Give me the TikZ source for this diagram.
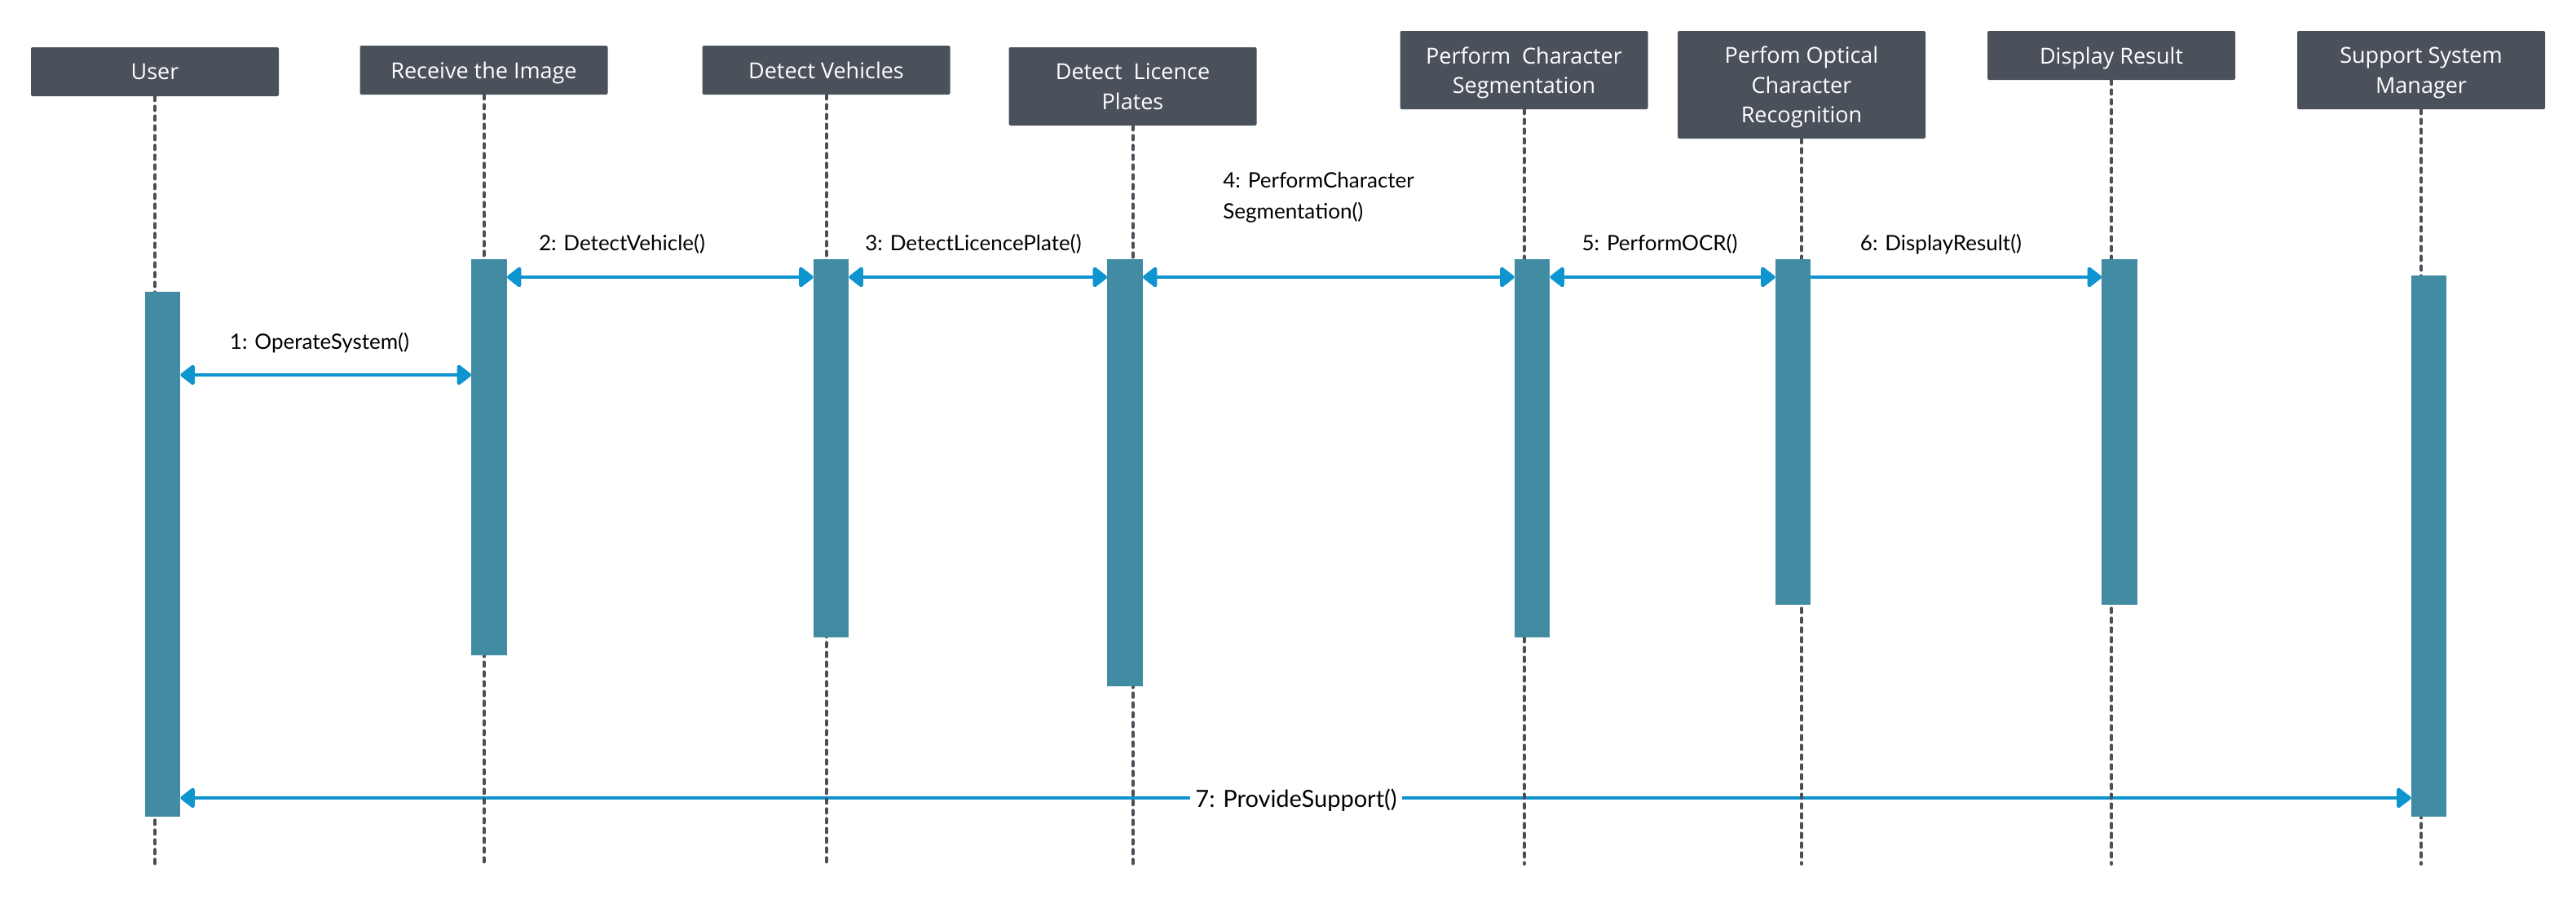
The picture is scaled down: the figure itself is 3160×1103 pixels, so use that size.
\documentclass[tikz,border=0pt]{standalone}
\usepackage{fontspec}
\setmainfont{Lato}
\newfontfamily\boxfont{Open Sans}
\usetikzlibrary{arrows.meta,fit}
\definecolor{boxc}{HTML}{4B515B}
\definecolor{actc}{HTML}{418BA3}
\definecolor{arrc}{HTML}{0E94CE}
\definecolor{lifec}{HTML}{4A505A}
\tikzset{
  hbox/.style={fill=boxc, text=white, minimum width=152pt, inner sep=0pt, align=center,
    rounded corners=1pt, text depth=0pt, font=\boxfont\fontsize{13.5}{18.3}\selectfont},
  act/.style={fill=actc, inner sep=0pt, minimum width=21.5pt},
  life/.style={draw=lifec, line width=2pt, line cap=round, dash pattern=on 2.5pt off 3.5pt},
  msgboth/.style={draw=arrc, line width=2.25pt,
    {Triangle[length=9.5pt,width=14pt,round]}-{Triangle[length=9.5pt,width=14pt,round]}},
  msgone/.style={draw=arrc, line width=2.25pt, -{Triangle[length=9.5pt,width=14pt,round]}},
  lbl/.style={inner sep=0pt, align=left, font=\fontsize{13}{19}\selectfont, text=black}
}
\begin{document}
\begin{tikzpicture}[x=0.5pt,y=-0.5pt]
\useasboundingbox (0,0) rectangle (3160,1103);
% header boxes
\node[hbox, minimum height=30pt] (user) at (190,88) {User};
\node[hbox, minimum height=30pt] (recv) at (593.5,86) {Receive the Image};
\node[hbox, minimum height=30pt] (dv) at (1013.5,86) {Detect Vehicles};
\node[hbox, minimum height=48pt] (lp) at (1389.5,106) {Detect\ \ Licence\\Plates};
\node[hbox, minimum height=48pt] (pcs) at (1869.5,86) {Perform\ \ Character\\Segmentation};
\node[hbox, minimum height=66pt] (ocr) at (2210,104) {Perfom Optical\\Character\\Recognition};
\node[hbox, minimum height=30pt] (dr) at (2590,68) {Display Result};
\node[hbox, minimum height=48pt] (ssm) at (2970,86) {Support System\\Manager};
% helper coordinates
\coordinate (bot) at (0,1060);
\coordinate (y1) at (0,460);
\coordinate (y2) at (0,340);
\coordinate (y7) at (0,979);
% activation bars (named, used as message ends)
\node[act, fit={(199.5,358)(199.5,1002)}] (auser) {};
\node[act, fit={(600,318)(600,804)}] (arecv) {};
\node[act, fit={(1019.5,318)(1019.5,782)}] (adv) {};
\node[act, fit={(1380,318)(1380,842)}] (alp) {};
\node[act, fit={(1879.5,318)(1879.5,782)}] (apcs) {};
\node[act, fit={(2199.5,318)(2199.5,742)}] (aocr) {};
\node[act, fit={(2600,318)(2600,742)}] (adr) {};
\node[act, fit={(2979.5,338)(2979.5,1002)}] (assm) {};
% messages
\draw[msgboth] (auser.east |- y1) -- (arecv.west |- y1);
\draw[msgboth] (arecv.east |- y2) -- (adv.west |- y2);
\draw[msgboth] (adv.east |- y2) -- (alp.west |- y2);
\draw[msgboth] (alp.east |- y2) -- (apcs.west |- y2);
\draw[msgboth] (apcs.east |- y2) -- (aocr.west |- y2);
\draw[msgone] (aocr.east |- y2) -- (adr.west |- y2);
\draw[msgboth] (auser.east |- y7) -- (assm.west |- y7);
% lifelines
\foreach \n in {user,recv,dv,lp,pcs,ocr,dr,ssm}{
  \draw[life] (\n.south) -- (\n.south |- bot);
}
% activation bars redrawn over the lifelines
\foreach \n in {auser,arecv,adv,alp,apcs,aocr,adr,assm}{
  \fill[actc] (\n.south west) rectangle (\n.north east);
}
% labels
\node[lbl, anchor=base] (l1) at (392,428) {1: OperateSystem()};
\node[lbl, anchor=base] (l2) at (763,307) {2: DetectVehicle()};
\node[lbl, anchor=base] (l3) at (1194,307) {3: DetectLicencePlate()};
\node[lbl, anchor=base west] (l4) at (1500,268) {4: PerformCharacter\\Segmentation()};
\node[lbl, anchor=base] (l5) at (2036,307) {5: PerformOCR()};
\node[lbl, anchor=base] (l6) at (2381,307) {6: DisplayResult()};
\node[lbl, anchor=base, fill=white, inner xsep=3pt, inner ysep=2pt, font=\fontsize{14.5}{19}\selectfont] (l7) at (1590,990) {7: ProvideSupport()};
\end{tikzpicture}
\end{document}
